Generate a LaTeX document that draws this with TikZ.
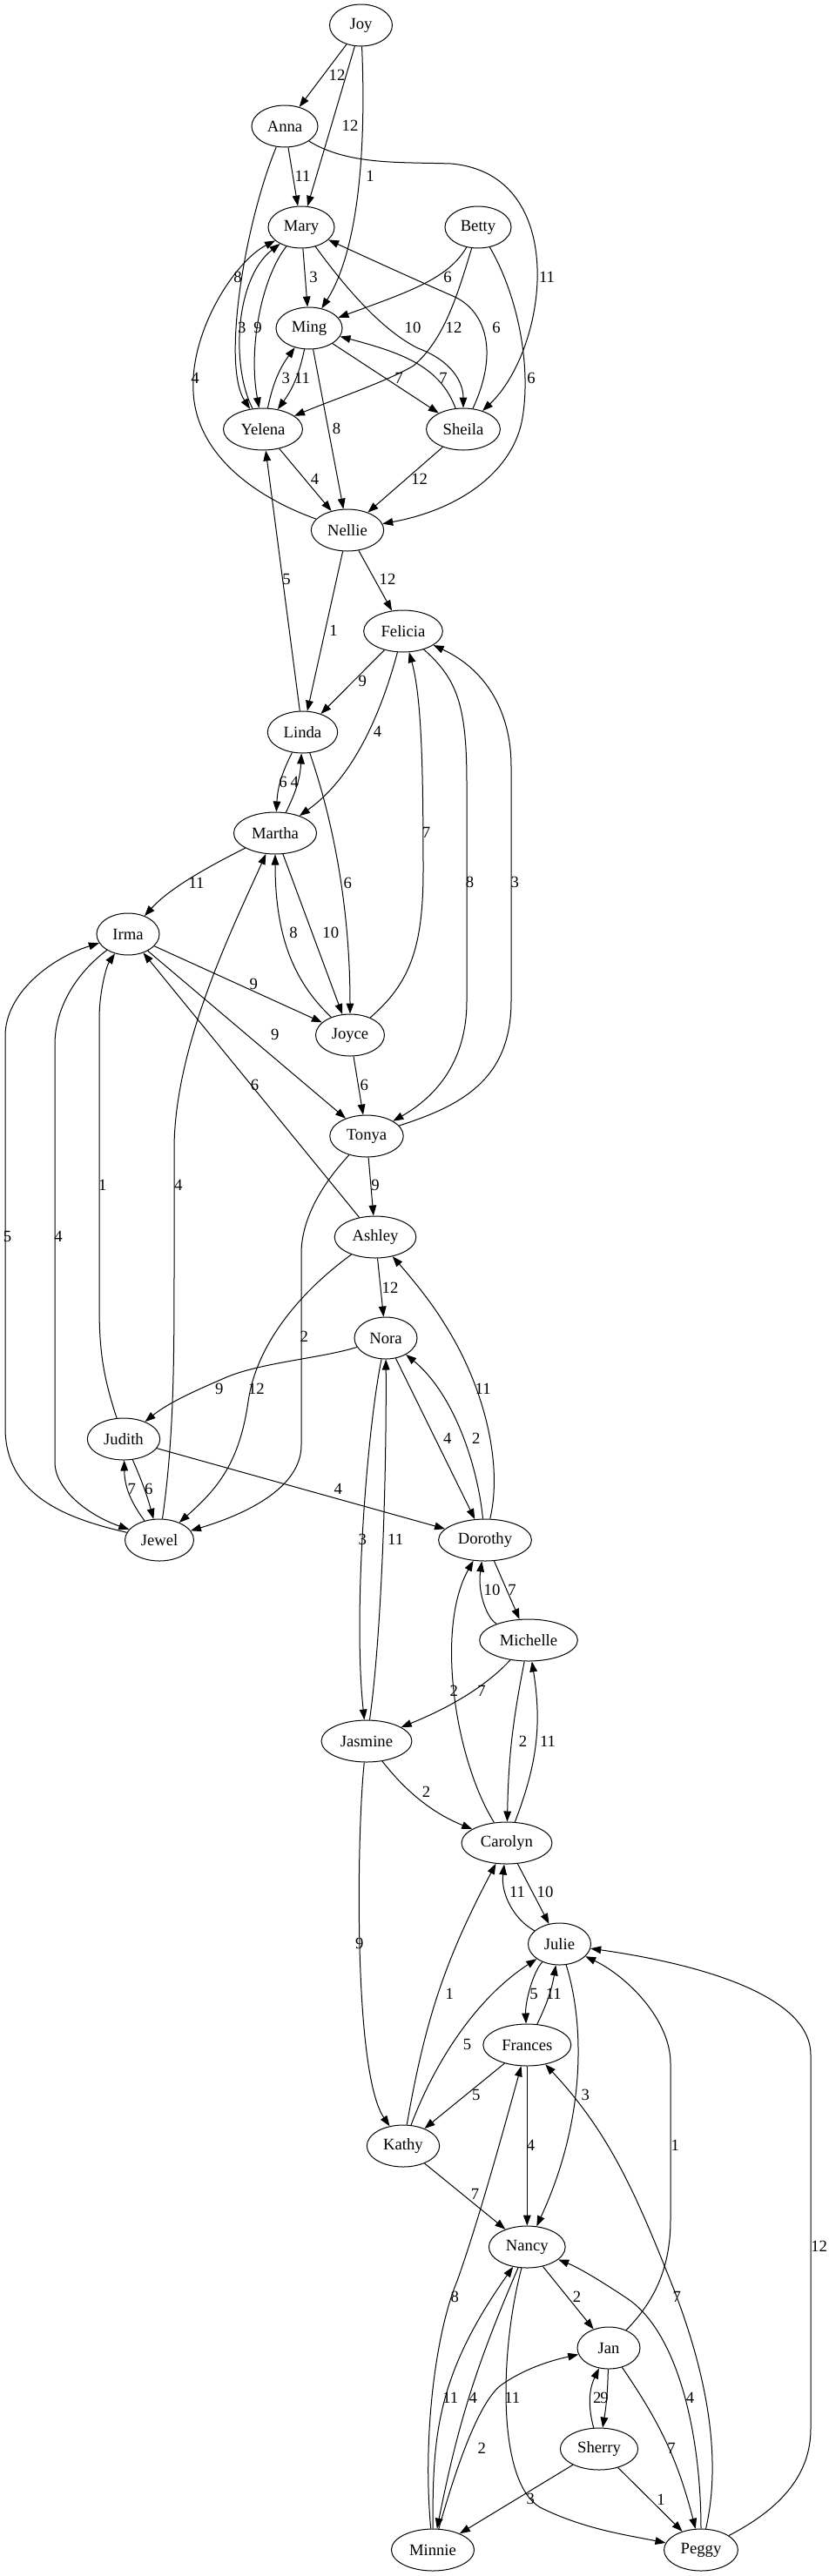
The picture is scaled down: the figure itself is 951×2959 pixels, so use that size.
\documentclass[tikz,border=0pt]{standalone}
\usepackage{fontspec}
\setmainfont{Liberation Serif}
\usetikzlibrary{arrows.meta,shapes.geometric}

\begin{document}
\begin{tikzpicture}[->,>={Triangle[length=9pt,width=6.5pt]},x=0.75pt,y=-0.75pt,line width=0.75pt,
  main node/.style={ellipse,draw,minimum width=54pt,minimum height=36pt,inner xsep=5pt,inner ysep=2pt,font=\fontsize{14}{16}\selectfont},
  wt/.style={font=\fontsize{14}{16}\selectfont,inner sep=0pt}]

  \useasboundingbox (0,0) rectangle (951,2959);

  \node[main node] (Joy) at (414.5,29) {Joy};
  \node[main node] (Anna) at (327,145) {Anna};
  \node[main node] (Mary) at (346,261) {Mary};
  \node[main node] (Betty) at (549,261) {Betty};
  \node[main node] (Ming) at (355,377) {Ming};
  \node[main node] (Yelena) at (302,493) {Yelena};
  \node[main node] (Sheila) at (532,493) {Sheila};
  \node[main node] (Nellie) at (399,609) {Nellie};
  \node[main node] (Felicia) at (463,725) {Felicia};
  \node[main node] (Linda) at (347.5,841) {Linda};
  \node[main node] (Martha) at (316,957) {Martha};
  \node[main node] (Irma) at (147,1073) {Irma};
  \node[main node] (Joyce) at (402,1189) {Joyce};
  \node[main node] (Tonya) at (421,1305) {Tonya};
  \node[main node] (Ashley) at (431,1421) {Ashley};
  \node[main node] (Nora) at (443,1537) {Nora};
  \node[main node] (Judith) at (142,1653) {Judith};
  \node[main node] (Jewel) at (183,1769) {Jewel};
  \node[main node] (Dorothy) at (557,1769) {Dorothy};
  \node[main node] (Michelle) at (607,1884) {Michelle};
  \node[main node] (Jasmine) at (421,2000) {Jasmine};
  \node[main node] (Carolyn) at (582,2117) {Carolyn};
  \node[main node] (Julie) at (642.5,2233) {Julie};
  \node[main node] (Frances) at (605.3,2349) {Frances};
  \node[main node] (Kathy) at (463,2465) {Kathy};
  \node[main node] (Nancy) at (605.3,2581) {Nancy};
  \node[main node] (Jan) at (699,2697) {Jan};
  \node[main node] (Sherry) at (688,2813) {Sherry};
  \node[main node] (Minnie) at (497,2929) {Minnie};
  \node[main node] (Peggy) at (805,2929) {Peggy};

  \draw (Joy) -- (Anna) node[wt] at (387,86) {12};
  \draw (Joy) -- (Mary) node[wt] at (402,144) {12};
  \draw (Joy) .. controls (421,180) and (410,290) .. (Ming) node[wt] at (425,202) {1};

  \draw (Anna) -- (Mary) node[wt] at (347.5,202) {11};
  \draw (Anna) .. controls (280,260) and (255,420) .. (Yelena) node[wt] at (273,318) {8};
  \draw (Anna) .. controls (400,190) and (460,186) .. (518,188) .. controls (655,200) and (630,400) .. (Sheila) node[wt] at (628,318) {11};

  \draw (Mary) -- (Ming) node[wt] at (360,318) {3};
  \draw (Mary) .. controls (300,320) and (285,400) .. (Yelena) node[wt] at (296,376) {9};
  \draw (Mary) .. controls (400,335) and (440,380) .. (480,400) .. controls (520,415) and (532,440) .. (Sheila) node[wt] at (474,376) {10};

  \draw (Betty) .. controls (515,320) and (470,335) .. (Ming) node[wt] at (514,318) {6};
  \draw (Betty) .. controls (525,340) and (510,390) .. (475,420) .. controls (445,438) and (380,460) .. (Yelena) node[wt] at (521,376) {12};
  \draw (Betty) .. controls (595,340) and (610,420) .. (600,480) .. controls (590,540) and (530,585) .. (Nellie) node[wt] at (610,434) {6};

  \draw (Ming) to[bend left=12] (Yelena) node[wt] at (347,434) {11};
  \draw (Ming) -- (Sheila) node[wt] at (458,434) {7};
  \draw (Ming) -- (Nellie) node[wt] at (386.6,492.7) {8};

  \draw (Yelena) .. controls (265,420) and (270,320) .. (Mary) node[wt] at (277.7,376) {3};
  \draw (Yelena) to[bend left=12] (Ming) node[wt] at (328.3,434) {3};
  \draw (Yelena) -- (Nellie) node[wt] at (361.6,550) {4};

  \draw (Sheila) .. controls (575,400) and (555,355) .. (520,340) .. controls (490,327) and (430,300) .. (Mary) node[wt] at (570,376) {6};
  \draw (Sheila) .. controls (505,420) and (460,405) .. (Ming) node[wt] at (509,434) {7};
  \draw (Sheila) -- (Nellie) node[wt] at (481.7,550) {12};

  \draw (Nellie) .. controls (290,570) and (225,520) .. (222,450) .. controls (218,380) and (270,300) .. (Mary) node[wt] at (224,434) {4};
  \draw (Nellie) -- (Linda) node[wt] at (383,724.3) {1};
  \draw (Nellie) -- (Felicia) node[wt] at (445,665.7) {12};

  \draw (Felicia) -- (Linda) node[wt] at (416.4,782.3) {9};
  \draw (Felicia) .. controls (440,810) and (410,890) .. (Martha) node[wt] at (433.5,840.7) {4};
  \draw (Felicia) .. controls (525,780) and (536,810) .. (536,900) -- (536,1150) .. controls (536,1220) and (500,1260) .. (Tonya) node[wt] at (539.5,1013.3) {8};

  \draw (Linda) -- (Yelena) node[wt] at (329,665.7) {5};
  \draw (Linda) to[bend right=12] (Martha) node[wt] at (325,898) {6};
  \draw (Linda) .. controls (385,950) and (402,1050) .. (Joyce) node[wt] at (399.3,1014) {6};

  \draw (Martha) to[bend right=12] (Linda) node[wt] at (338.4,898) {4};
  \draw (Martha) .. controls (240,995) and (195,1020) .. (Irma) node[wt] at (225.5,1014) {11};
  \draw (Martha) -- (Joyce) node[wt] at (379.8,1071.7) {10};

  \draw (Irma) -- (Joyce) node[wt] at (291.4,1130) {9};
  \draw (Irma) -- (Tonya) node[wt] at (315.8,1188.3) {9};
  \draw (Irma) .. controls (85,1120) and (63,1160) .. (63,1200) -- (63,1680) .. controls (63,1710) and (100,1740) .. (Jewel) node[wt] at (67,1420) {4};

  \draw (Joyce) .. controls (470,1130) and (486,1090) .. (486,1000) .. controls (486,880) and (484,800) .. (Felicia) node[wt] at (489.5,956.7) {7};
  \draw (Joyce) .. controls (340,1130) and (316,1080) .. (Martha) node[wt] at (337,1071.7) {8};
  \draw (Joyce) -- (Tonya) node[wt] at (418.2,1246) {6};

  \draw (Tonya) .. controls (530,1270) and (587,1240) .. (587,1150) -- (587,880) .. controls (587,820) and (560,770) .. (Felicia) node[wt] at (591.3,1013.3) {3};
  \draw (Tonya) -- (Ashley) node[wt] at (431,1361.7) {9};
  \draw (Tonya) .. controls (370,1360) and (346,1400) .. (346,1440) -- (346,1660) .. controls (346,1710) and (280,1740) .. (Jewel) node[wt] at (349.3,1535.7) {2};

  \draw (Ashley) -- (Irma) node[wt] at (292.6,1246) {6};
  \draw (Ashley) .. controls (350,1480) and (295,1540) .. (285,1610) .. controls (275,1680) and (250,1710) .. (Jewel) node[wt] at (294.4,1595) {12};
  \draw (Ashley) -- (Nora) node[wt] at (448,1479) {12};

  \draw (Nora) .. controls (370,1560) and (300,1565) .. (260,1582) .. controls (230,1595) and (195,1610) .. (Judith) node[wt] at (251.8,1595) {9};
  \draw (Nora) -- (Dorothy) node[wt] at (513.9,1652.7) {4};
  \draw (Nora) .. controls (422,1640) and (405,1850) .. (Jasmine) node[wt] at (416.4,1768.3) {3};

  \draw (Judith) .. controls (118,1580) and (114,1550) .. (114,1500) -- (114,1170) .. controls (114,1140) and (122,1110) .. (Irma) node[wt] at (117.7,1361.7) {1};
  \draw (Judith) to[bend left=4] (Jewel) node[wt] at (170.7,1710) {6};
  \draw (Judith) -- (Dorothy) node[wt] at (388.3,1710) {4};

  \draw (Jewel) .. controls (200,1650) and (200,1560) .. (200,1450) -- (200,1320) .. controls (200,1200) and (270,1060) .. (Martha) node[wt] at (204.8,1361.7) {4};
  \draw (Jewel) .. controls (80,1745) and (6,1720) .. (6,1640) -- (6,1190) .. controls (6,1140) and (60,1100) .. (Irma) node[wt] at (8.5,1420) {5};
  \draw (Jewel) to[bend left=18] (Judith) node[wt] at (151.2,1710) {7};

  \draw (Dorothy) .. controls (578,1680) and (555,1590) .. (510,1520) .. controls (495,1495) and (470,1465) .. (Ashley) node[wt] at (554.7,1595) {11};
  \draw (Dorothy) .. controls (548,1680) and (520,1600) .. (Nora) node[wt] at (546.8,1652.7) {2};
  \draw (Dorothy) -- (Michelle) node[wt] at (588,1826) {7};

  \draw (Michelle) .. controls (560,1860) and (548,1830) .. (Dorothy) node[wt] at (565,1826) {10};
  \draw (Michelle) .. controls (560,1935) and (520,1960) .. (Jasmine) node[wt] at (553,1942.3) {7};
  \draw (Michelle) to[bend right=5] (Carolyn) node[wt] at (600.5,2000) {2};

  \draw (Jasmine) .. controls (438,1880) and (444,1700) .. (Nora) node[wt] at (454.2,1768.3) {11};
  \draw (Jasmine) .. controls (460,2050) and (490,2080) .. (Carolyn) node[wt] at (489.5,2058.3) {2};
  \draw (Jasmine) .. controls (410,2100) and (405,2380) .. (Kathy) node[wt] at (412.7,2232.3) {9};

  \draw (Carolyn) .. controls (522,2020) and (500,1870) .. (Dorothy) node[wt] at (521.2,1942.3) {2};
  \draw (Carolyn) to[bend right=15] (Michelle) node[wt] at (629,2000) {11};
  \draw (Carolyn) -- (Julie) node[wt] at (626,2173.3) {10};

  \draw (Julie) .. controls (590,2205) and (575,2175) .. (Carolyn) node[wt] at (594,2173.3) {11};
  \draw (Julie) .. controls (612,2265) and (603,2300) .. (Frances) node[wt] at (613,2290) {5};
  \draw (Julie) .. controls (670,2320) and (675,2430) .. (Nancy) node[wt] at (672.4,2406) {3};

  \draw (Frances) to[bend right=8] (Julie) node[wt] at (635.8,2290) {11};
  \draw (Frances) -- (Kathy) node[wt] at (546.8,2406) {5};
  \draw (Frances) -- (Nancy) node[wt] at (609.6,2464) {4};

  \draw (Kathy) to[bend left=9] (Carolyn) node[wt] at (516.3,2290) {1};
  \draw (Kathy) .. controls (495,2380) and (540,2300) .. (Julie) node[wt] at (536.5,2348.3) {5};
  \draw (Kathy) -- (Nancy) node[wt] at (545.6,2520) {7};

  \draw (Nancy) -- (Jan) node[wt] at (662.6,2638.3) {2};
  \draw (Nancy) to[bend right=6] (Minnie) node[wt] at (543.3,2754) {4};
  \draw (Nancy) .. controls (574,2700) and (570,2850) .. (620,2880) .. controls (670,2905) and (720,2912) .. (Peggy) node[wt] at (588.3,2754) {11};

  \draw (Jan) .. controls (755,2640) and (770,2600) .. (770,2550) -- (770,2370) .. controls (770,2320) and (720,2270) .. (Julie) node[wt] at (775.4,2464) {1};
  \draw (Jan) to[bend left=4] (Sherry) node[wt] at (694,2754) {9};
  \draw (Jan) to[bend left=10] (Peggy) node[wt] at (771,2812.3) {7};

  \draw (Sherry) to[bend left=20] (Jan) node[wt] at (685.7,2754) {2};
  \draw (Sherry) -- (Minnie) node[wt] at (609.3,2870.7) {3};
  \draw (Sherry) -- (Peggy) node[wt] at (759,2871) {1};

  \draw (Minnie) .. controls (485,2800) and (500,2680) .. (525,2620) .. controls (550,2550) and (580,2440) .. (Frances) node[wt] at (522.4,2638.3) {8};
  \draw (Minnie) .. controls (497,2800) and (500,2730) .. (Nancy) node[wt] at (517.3,2754) {11};
  \draw (Minnie) .. controls (525,2830) and (550,2760) .. (575,2740) .. controls (600,2722) and (630,2712) .. (Jan) node[wt] at (553.3,2812.3) {2};

  \draw (Peggy) .. controls (900,2880) and (931,2840) .. (931,2790) -- (931,2360) .. controls (931,2300) and (830,2260) .. (Julie) node[wt] at (940.7,2580) {12};
  \draw (Peggy) .. controls (830,2820) and (810,2720) .. (770,2620) .. controls (730,2520) and (700,2450) .. (Frances) node[wt] at (777.2,2638.3) {7};
  \draw (Peggy) .. controls (805,2800) and (780,2680) .. (720,2640) .. controls (690,2620) and (665,2605) .. (Nancy) node[wt] at (792.5,2754) {4};
\end{tikzpicture}
\end{document}
